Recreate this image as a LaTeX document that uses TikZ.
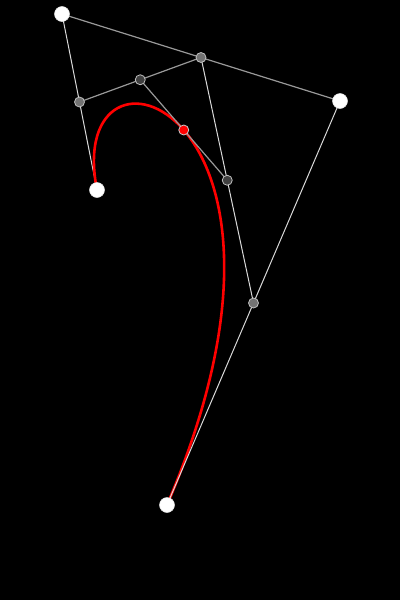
\documentclass[tikz,border=0pt]{standalone}
\begin{document}
\begin{tikzpicture}[x=1pt,y=-1pt,
  lightline/.style={draw=white!85!black,line width=1pt},
  grayline/.style={draw=white!60!black,line width=1.2pt},
  enddot/.style={circle,fill=white,draw=white!90!black,line width=0.5pt,minimum size=15pt,inner sep=0pt},
  midone/.style={circle,fill=white!45!black,draw=white!75!black,line width=0.8pt,minimum size=10pt,inner sep=0pt},
  midtwo/.style={circle,fill=white!25!black,draw=white!75!black,line width=0.8pt,minimum size=10pt,inner sep=0pt},
  reddot/.style={circle,fill=red,draw=white!80!black,line width=0.8pt,minimum size=10pt,inner sep=0pt},
  curve/.style={draw=red,line width=2.6pt}]
\fill[black] (0,0) rectangle (400,600);
\useasboundingbox (0,0) rectangle (400,600);
\coordinate (p0) at (97,190);
\coordinate (p1) at (62,14);
\coordinate (p2) at (340,101);
\coordinate (p3) at (167,505);
\coordinate (a) at (79.5,102);
\coordinate (b) at (201,57.5);
\coordinate (c) at (253.5,303);
\coordinate (d) at (140.25,79.75);
\coordinate (e) at (227.25,180.25);
\coordinate (m) at (183.75,130);
\draw[lightline] (p0) -- (p1);
\draw[grayline] (p1) -- (p2);
\draw[curve] (p0) .. controls (p1) and (p2) .. (p3);
\draw[lightline] (p2) -- (p3);
\draw[grayline] (a) -- (b);
\draw[lightline] (b) -- (c);
\draw[grayline] (d) -- (e);
\node[midone] (na) at (a) {};
\node[midone] (nb) at (b) {};
\node[midone] (nc) at (c) {};
\node[midtwo] (nd) at (d) {};
\node[midtwo] (ne) at (e) {};
\node[reddot] (nm) at (m) {};
\node[enddot] (n0) at (p0) {};
\node[enddot] (n1) at (p1) {};
\node[enddot] (n2) at (p2) {};
\node[enddot] (n3) at (p3) {};
\end{tikzpicture}
\end{document}
